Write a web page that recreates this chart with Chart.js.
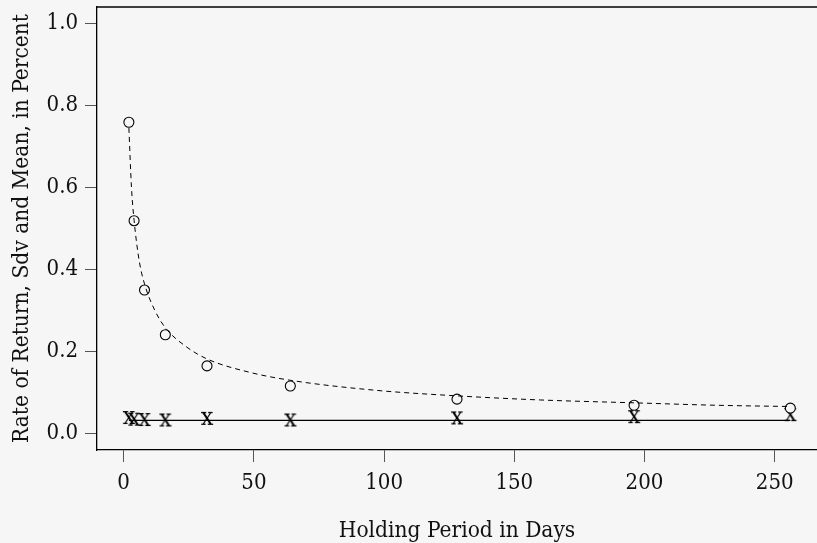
<!DOCTYPE html>
<html>
<head>
<meta charset="utf-8">
<script src="https://cdn.jsdelivr.net/npm/chart.js@4.4.1/dist/chart.umd.min.js"></script>
<style>
  html, body { margin: 0; padding: 0; background: #f6f6f6; }
  #wrap { width: 817px; height: 543px; }
</style>
</head>
<body>
<div id="wrap"><canvas id="holding"></canvas></div>
<script>
var days = [2, 4, 8, 16, 32, 64, 128, 196, 256];
var sdvValues = [0.759, 0.519, 0.350, 0.241, 0.165, 0.116, 0.084, 0.069, 0.062];
var returnValues = [0.038, 0.034, 0.033, 0.032, 0.036, 0.032, 0.037, 0.040, 0.045];
var meanValue = 0.032;

// dashed fitted curve
var curveDays = [2, 3, 4, 6, 8, 12, 16, 24, 32, 48, 64, 96, 128, 160, 196, 228, 256];
var curveValues = [0.745, 0.60, 0.52, 0.42, 0.365, 0.30, 0.258, 0.212, 0.182, 0.150, 0.130, 0.106, 0.092, 0.082, 0.075, 0.069, 0.066];

var xTicks = [0, 50, 100, 150, 200, 250];
var yTicks = [0.0, 0.2, 0.4, 0.6, 0.8, 1.0];

var serif = "'DejaVu Serif Condensed', 'DejaVu Serif', 'Liberation Serif', serif";

function pairs(xs, ys){
  return xs.map(function(x, i){ return {x: x, y: ys[i]}; });
}

// little 'x' glyph used as marker (like pch = "x")
function xGlyph(){
  var c = document.createElement('canvas');
  c.width = 24; c.height = 24;
  var g = c.getContext('2d');
  g.fillStyle = '#000';
  g.font = '25px ' + serif;
  g.textAlign = 'center';
  g.textBaseline = 'middle';
  g.fillText('x', 12, 11);
  return c;
}

var topBorder = {
  id: 'topBorder',
  afterDraw: function(chart){
    var a = chart.chartArea, ctx = chart.ctx;
    ctx.save();
    ctx.strokeStyle = '#000';
    ctx.lineWidth = 1.3;
    ctx.beginPath();
    ctx.moveTo(a.left, a.top);
    ctx.lineTo(chart.width, a.top);
    ctx.stroke();
    ctx.restore();
  }
};

const ctx = document.getElementById('holding');
new Chart(ctx, {
  type: 'scatter',
  data: {
    datasets: [{
      data: pairs(curveDays, curveValues),
      showLine: true,
      borderColor: '#000',
      borderWidth: 1,
      borderDash: [5, 4],
      pointRadius: 0,
      cubicInterpolationMode: 'monotone'
    }, {
      data: pairs(days, sdvValues),
      showLine: false,
      pointStyle: 'circle',
      pointRadius: 5,
      pointBorderWidth: 1.1,
      pointBorderColor: '#000',
      pointBackgroundColor: '#f6f6f6'
    }, {
      data: [{x: days[0], y: meanValue}, {x: days[days.length - 1], y: meanValue}],
      showLine: true,
      borderColor: '#000',
      borderWidth: 1.2,
      pointRadius: 0
    }, {
      data: pairs(days, returnValues),
      showLine: false,
      pointStyle: xGlyph(),
      pointRadius: 8
    }]
  },
  options: {
    responsive: true,
    maintainAspectRatio: false,
    animation: false,
    layout: { autoPadding: false, padding: { top: 7, right: 0, left: 0, bottom: 0 } },
    plugins: { legend: { display: false }, tooltip: { enabled: false } },
    scales: {
      x: {
        type: 'linear',
        min: -10.24,
        max: 266.24,
        afterBuildTicks: function(s){ s.ticks = xTicks.map(function(v){ return {value: v}; }); },
        afterFit: function(s){ s.height = 93; s.paddingLeft = 0; s.paddingRight = 0; },
        grid: { drawOnChartArea: false, tickLength: 12, tickColor: '#555', tickWidth: 1 },
        border: { display: true, color: '#000', width: 1.3 },
        ticks: { color: '#111', font: { family: serif, size: 22 }, padding: 8, maxRotation: 0 },
        title: { display: true, text: 'Holding Period in Days', color: '#111', font: { family: serif, size: 22.5, lineHeight: 1.05 }, padding: { top: 15, bottom: 0 } }
      },
      y: {
        type: 'linear',
        min: -0.04,
        max: 1.04,
        afterBuildTicks: function(s){ s.ticks = yTicks.map(function(v){ return {value: v}; }); },
        afterFit: function(s){ s.width = 97; s.paddingTop = 0; s.paddingBottom = 0; },
        grid: { drawOnChartArea: false, tickLength: 12, tickColor: '#555', tickWidth: 1 },
        border: { display: true, color: '#000', width: 1.3 },
        ticks: { color: '#111', font: { family: serif, size: 22 }, padding: 7, callback: function(v){ return v.toFixed(1); } },
        title: { display: true, text: 'Rate of Return, Sdv and Mean, in Percent', color: '#111', font: { family: serif, size: 22.5 }, padding: { top: 9, bottom: 4 } }
      }
    }
  },
  plugins: [topBorder]
});
</script>
</body>
</html>
